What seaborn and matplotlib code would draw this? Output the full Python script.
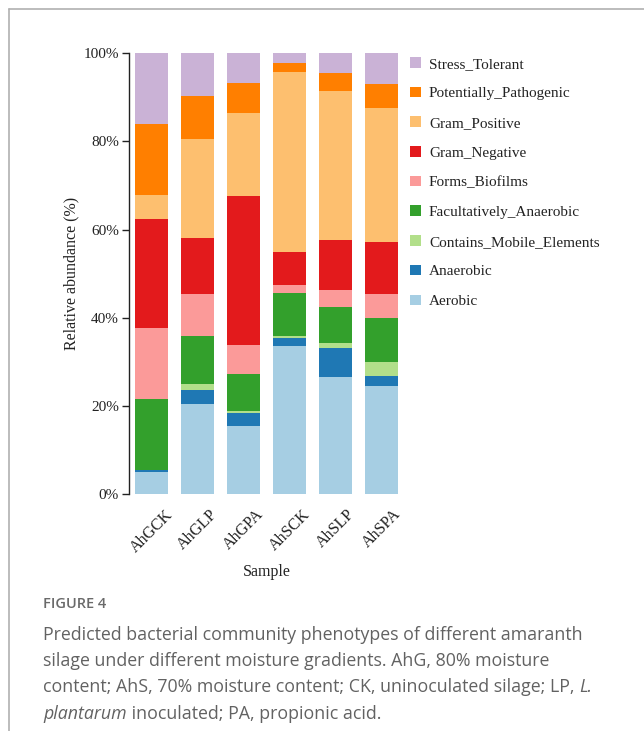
import matplotlib
matplotlib.use("Agg")
import matplotlib.pyplot as plt
from matplotlib.lines import Line2D
from matplotlib.patches import Patch
import numpy as np
import pandas as pd
import seaborn as sns

# Samples and predicted phenotype abundances (%), bottom to top of each stack
samples = ["AhGCK", "AhGLP", "AhGPA", "AhSCK", "AhSLP", "AhSPA"]
phenotypes = ["Aerobic", "Anaerobic", "Contains_Mobile_Elements",
              "Facultatively_Anaerobic", "Forms_Biofilms", "Gram_Negative",
              "Gram_Positive", "Potentially_Pathogenic", "Stress_Tolerant"]

aerobic = [4.9, 20.4, 15.5, 33.6, 26.5, 24.5]
anaerobic = [0.5, 3.2, 2.9, 1.9, 6.6, 2.3]
contains_mobile = [0.1, 1.3, 0.4, 0.4, 1.2, 3.1]
facultatively_anaerobic = [16.0, 11.0, 8.4, 9.8, 8.1, 10.0]
forms_biofilms = [16.1, 9.4, 6.7, 1.8, 3.9, 5.4]
gram_negative = [24.8, 12.9, 33.8, 7.4, 11.3, 11.8]
gram_positive = [5.5, 22.4, 18.7, 40.8, 33.8, 30.4]
potentially_pathogenic = [16.1, 9.7, 6.8, 2.0, 4.1, 5.6]
stress_tolerant = [16.0, 9.7, 6.8, 2.3, 4.5, 6.9]

ytick_labels = ["0%", "20%", "40%", "60%", "80%", "100%"]

series = [aerobic, anaerobic, contains_mobile, facultatively_anaerobic,
          forms_biofilms, gram_negative, gram_positive,
          potentially_pathogenic, stress_tolerant]
colors = sns.color_palette("Paired", 9)

df = pd.DataFrame({name: vals for name, vals in zip(phenotypes, series)})
df.insert(0, "Sample", samples)
cum = df[phenotypes].cumsum(axis=1)

sns.set_style("white")
plt.rcParams["font.family"] = ["Liberation Serif", "DejaVu Serif"]

W, H = 644, 731
fig = plt.figure(figsize=(W / 100, H / 100), dpi=100)
fig.patch.set_facecolor("white")


def fx(px):
    return px / W


def fy(py):
    return 1 - py / H


ax = fig.add_axes([fx(128.5), fy(494), fx(404.5) - fx(128.5), fy(53.3) - fy(494)])

# Stacked bars: draw cumulative totals from the top layer down
for name, col in reversed(list(zip(phenotypes, colors))):
    sns.barplot(x=df["Sample"], y=cum[name], color=col, width=0.71,
                saturation=1, edgecolor="none", linewidth=0, ax=ax)

ax.set_xlim(-0.5, 5.5)
ax.set_ylim(0, 100)
ax.set_yticks(np.arange(0, 101, 20))
ax.set_yticklabels(ytick_labels)
sns.despine(ax=ax, bottom=True)
ax.spines["left"].set_color("#222222")
ax.spines["left"].set_linewidth(1.0)
ax.tick_params(axis="y", direction="out", length=5, width=1.0, color="#222222",
               labelsize=11, labelcolor="#222222", pad=2, left=True)
ax.tick_params(axis="x", length=0, labelsize=11.5, labelcolor="#222222", pad=9)
for lab in ax.get_xticklabels():
    lab.set_rotation(45)
    lab.set_ha("center")
    lab.set_va("top")
ax.set_xlabel("Sample", fontsize=11.5, color="#222222", labelpad=6)
ax.set_ylabel("Relative abundance (%)", fontsize=11.5, color="#222222", labelpad=3)

# Legend, top layer first
handles = [Patch(facecolor=c, edgecolor="none") for c in reversed(colors)]
fig.legend(handles, list(reversed(phenotypes)), loc="upper left",
           bbox_to_anchor=(fx(404), fy(51)), frameon=False, fontsize=11,
           handlelength=0.68, handleheight=0.68, handletextpad=0.55,
           labelspacing=1.052, borderaxespad=0, labelcolor="#222222")

# Frame lines along the top and left edges
fig.add_artist(Line2D([fx(9), 1], [fy(9), fy(9)], transform=fig.transFigure,
                      color="#b0b0b0", linewidth=1.2))
fig.add_artist(Line2D([fx(9), fx(9)], [fy(9), 0], transform=fig.transFigure,
                      color="#b0b0b0", linewidth=1.2))

# Caption
cap_font = ["Open Sans", "DejaVu Sans"]
cap_color = "#626262"
cap_size = 12.8
fig.text(fx(43), fy(604.5), "FIGURE 4", fontsize=10.5, color="#6a6a6a",
         family=cap_font, weight="semibold", va="center", ha="left")

lines = [
    [("Predicted bacterial community phenotypes of different amaranth", "normal")],
    [("silage under different moisture gradients. AhG, 80% moisture", "normal")],
    [("content; AhS, 70% moisture content; CK, uninoculated silage; LP, ", "normal"),
     ("L.", "italic")],
    [("plantarum", "italic"), (" inoculated; PA, propionic acid.", "normal")],
]
baselines = [639.5, 666, 692.5, 719]

fig.canvas.draw()
renderer = fig.canvas.get_renderer()
for parts, yy in zip(lines, baselines):
    x_px = 43
    for txt, style in parts:
        t = fig.text(fx(x_px), fy(yy), txt, fontsize=cap_size, color=cap_color,
                     family=cap_font, style=style, va="baseline", ha="left")
        x_px = t.get_window_extent(renderer).x1

fig.savefig("out.png", dpi=100, facecolor="white")
